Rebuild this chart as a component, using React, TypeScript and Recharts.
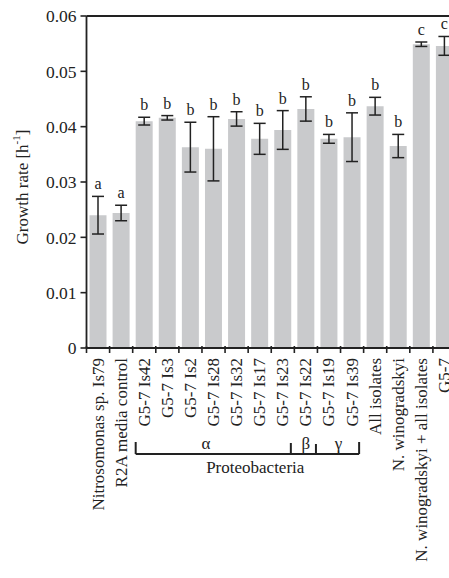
import React from 'react';
import { BarChart, Bar, XAxis, YAxis, ErrorBar, LabelList, ReferenceLine } from 'recharts';

const categories = [
  'Nitrosomonas sp. Is79',
  'R2A media control',
  'G5-7 Is42',
  'G5-7 Is3',
  'G5-7 Is2',
  'G5-7 Is28',
  'G5-7 Is32',
  'G5-7 Is17',
  'G5-7 Is23',
  'G5-7 Is22',
  'G5-7 Is19',
  'G5-7 Is39',
  'All isolates',
  'N. winogradskyi',
  'N. winogradskyi + all isolates',
  'G5-7',
];
const growthRates = [0.024, 0.0244, 0.041, 0.0416, 0.0363, 0.036, 0.0414, 0.0378, 0.0394, 0.0432, 0.0378, 0.0381, 0.0437, 0.0365, 0.0549, 0.0546];
const errors = [0.0034, 0.0014, 0.0007, 0.0004, 0.0045, 0.0058, 0.0013, 0.0028, 0.0035, 0.0022, 0.0008, 0.0044, 0.0016, 0.0021, 0.0004, 0.0017];
const letters = ['a', 'a', 'b', 'b', 'b', 'b', 'b', 'b', 'b', 'b', 'b', 'b', 'b', 'b', 'c', 'c'];
const yTicks = [0, 0.01, 0.02, 0.03, 0.04, 0.05, 0.06];

const data = categories.map((name, i) => ({ name, value: growthRates[i], err: errors[i], letter: letters[i] }));

const FONT = '"Liberation Serif", "Times New Roman", serif';
const INK = '#222';

const XTick = (props: any) => {
  const { x, y, payload, index } = props;
  const bw = (payload && payload.offset ? payload.offset * 2 : 23.1);
  const left = x - bw / 2;
  const els: any[] = [];
  els.push(<line key="t" x1={left} x2={left} y1={y - 2} y2={y + 5} stroke={INK} strokeWidth={1.6} />);
  els.push(
    <text key="l" x={x} y={y + 10} transform={`rotate(-90, ${x}, ${y + 10})`} textAnchor="end" dominantBaseline="central"
      fontFamily={FONT} fontSize={17} fill={INK}>{payload.value}</text>
  );
  if (index === 2) {
    const b = (k: number) => left + (k - 2) * bw;
    const yl = y + 106;
    const l0 = b(2) + 3;
    const dAB = b(9) - 3.5;
    const dBG = b(10) - 1.5;
    const r0 = b(12) - 4.5;
    els.push(<line key="h" x1={l0} x2={r0} y1={yl} y2={yl} stroke={INK} strokeWidth={2} />);
    els.push(<line key="v1" x1={l0} x2={l0} y1={yl - 12} y2={yl} stroke={INK} strokeWidth={2} />);
    els.push(<line key="v2" x1={dAB} x2={dAB} y1={yl - 11} y2={yl} stroke={INK} strokeWidth={2} />);
    els.push(<line key="v3" x1={dBG} x2={dBG} y1={yl - 10} y2={yl} stroke={INK} strokeWidth={2} />);
    els.push(<line key="v4" x1={r0} x2={r0} y1={yl - 12} y2={yl} stroke={INK} strokeWidth={2} />);
    els.push(<text key="a" x={b(5) + 4} y={yl - 11} textAnchor="middle" dominantBaseline="central" fontFamily={FONT} fontSize={17} fill={INK}>α</text>);
    els.push(<text key="bb" x={b(9) + bw / 2} y={yl - 11} textAnchor="middle" dominantBaseline="central" fontFamily={FONT} fontSize={17} fill={INK}>β</text>);
    els.push(<text key="g" x={b(11) - 2} y={yl - 11} textAnchor="middle" dominantBaseline="central" fontFamily={FONT} fontSize={17} fill={INK}>γ</text>);
    els.push(<text key="p" x={b(8) - 16} y={yl + 13} textAnchor="middle" dominantBaseline="central" fontFamily={FONT} fontSize={17} fill={INK}>Proteobacteria</text>);
  }
  return <g>{els}</g>;
};

const renderLetter = (props: any) => {
  const { x, y, width, height, index } = props;
  const v = growthRates[index];
  const pxPerUnit = height / v;
  const top = y - errors[index] * pxPerUnit;
  return (
    <text x={x + width / 2} y={top - 7} textAnchor="middle" fontFamily={FONT} fontSize={16} fill={INK}>
      {letters[index]}
    </text>
  );
};

const YTitle = (props: any) => {
  const vb = props.viewBox || { x: 0, y: 16, width: 87, height: 332 };
  const cx = vb.x + 22;
  const cy = vb.y + vb.height / 2 + 5;
  return (
    <text x={cx} y={cy} transform={`rotate(-90, ${cx}, ${cy})`} textAnchor="middle" dominantBaseline="central"
      fontFamily={FONT} fontSize={17} fill={INK}>
      Growth rate [h<tspan dy={-6} fontSize={11}>-1</tspan><tspan dy={6}>]</tspan>
    </text>
  );
};

export default function App() {
  return (
    <div style={{ position: 'fixed', left: 0, top: 0, width: 449, height: 578, overflow: 'hidden', background: '#fff' }}>
      <BarChart width={460} height={578} data={data} margin={{ top: 16, right: 4, left: 0, bottom: 0 }}>
        <XAxis dataKey="name" interval={0} height={230} tickLine={false} tickSize={0} tickMargin={0}
          axisLine={{ stroke: INK, strokeWidth: 1.8 }} tick={<XTick />} />
        <YAxis domain={[0, 0.06]} ticks={yTicks} width={86.5} tickSize={6} tickMargin={4}
          tickFormatter={(v: number) => (v === 0 ? '0' : v.toFixed(2))}
          tick={{ fontFamily: FONT, fontSize: 17.5, fill: INK }}
          tickLine={{ stroke: INK, strokeWidth: 1.6 }} axisLine={{ stroke: INK, strokeWidth: 1.8 }}
          label={<YTitle />} />
        <ReferenceLine y={0.06} stroke={INK} strokeWidth={1.8} />
        <Bar dataKey="value" fill="#c9cacc" barSize={17} isAnimationActive={false}>
          <ErrorBar dataKey="err" width={6} stroke={INK} strokeWidth={1.5} />
          <LabelList dataKey="letter" content={renderLetter} />
        </Bar>
      </BarChart>
    </div>
  );
}
